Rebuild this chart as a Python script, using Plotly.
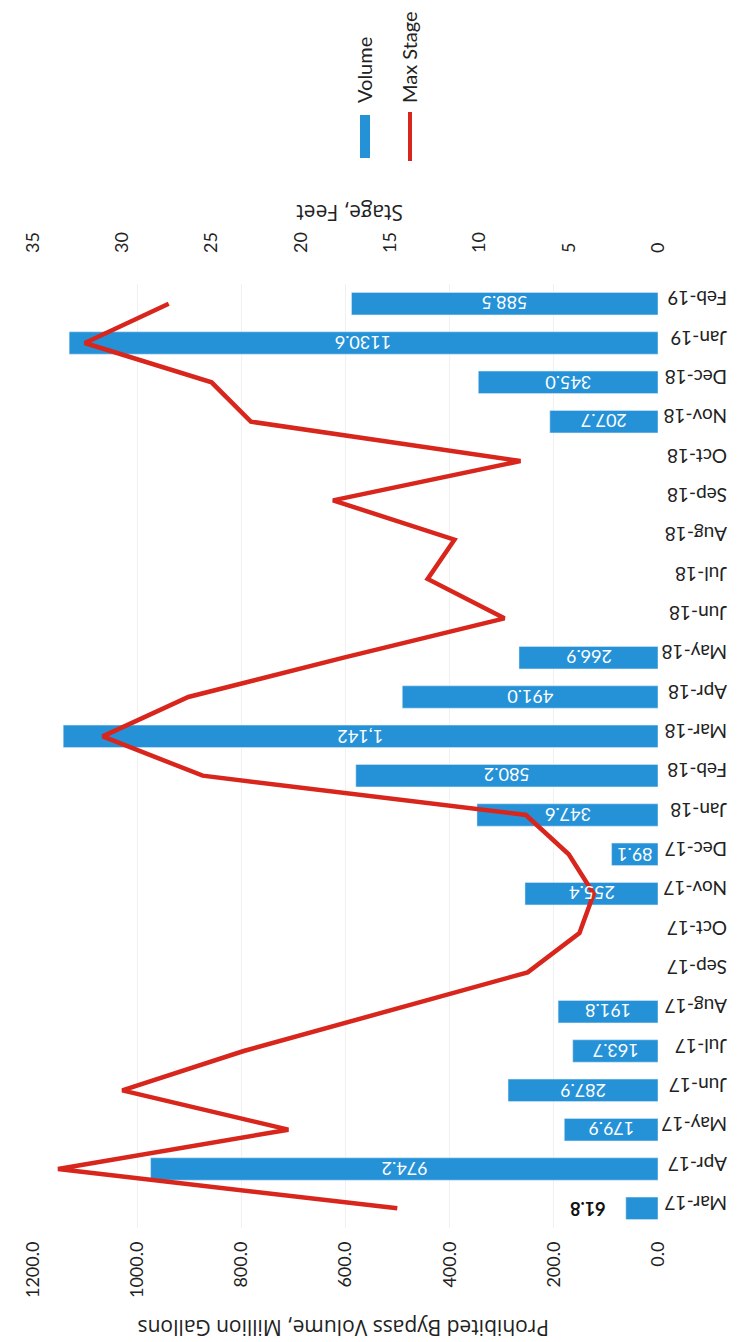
"""plot.py

Prohibited bypass volume and max river stage, drawn in the rotated
(scanned) orientation of the source page.

"""

import plotly.graph_objects as go

months = [
    "Mar-17", "Apr-17", "May-17", "Jun-17", "Jul-17", "Aug-17",
    "Sep-17", "Oct-17", "Nov-17", "Dec-17", "Jan-18", "Feb-18",
    "Mar-18", "Apr-18", "May-18", "Jun-18", "Jul-18", "Aug-18",
    "Sep-18", "Oct-18", "Nov-18", "Dec-18", "Jan-19", "Feb-19",
]
volume = [
    61.8, 974.2, 179.9, 287.9, 163.7, 191.8,
    None, None, 255.4, 89.1, 347.6, 580.2,
    1142.0, 491.0, 266.9, None, None, None,
    None, None, 207.7, 345.0, 1130.6, 588.5,
]
volume_labels = [
    "61.8", "974.2", "179.9", "287.9", "163.7", "191.8",
    "", "", "255.4", "89.1", "347.6", "580.2",
    "1,142", "491.0", "266.9", "", "", "",
    "", "", "207.7", "345.0", "1130.6", "588.5",
]
max_stage = [
    14.6, 33.6, 20.7, 30.0, 23.2, 15.2,
    7.3, 4.4, 3.6, 5.0, 7.4, 25.5,
    31.1, 26.3, 17.6, 8.6, 12.9, 11.4,
    18.2, 7.7, 22.8, 25.0, 32.1, 27.4,
]
volume_ticks = [0, 200, 400, 600, 800, 1000, 1200]
stage_ticks = [0, 5, 10, 15, 20, 25, 30, 35]

FONT = "Lato"
TITLE_FONT = "Open Sans"
BLUE = "#2592d8"
RED = "#d8261d"

# plot area in pixels, used to place titles and the hand-drawn legend
W, H = 743, 1342
L, R, T, B = 25, 93, 276, 122


def px_to_paper(px, py):
    """Converts page pixels to paper coordinates"""
    return (px - L) / (W - L - R), (H - B - py) / (H - T - B)


def generate_figure():
    fig = go.Figure()

    fig.add_trace(
        go.Bar(
            y=months,
            x=volume,
            orientation="h",
            name="Volume",
            marker_color=BLUE,
        )
    )

    fig.add_trace(
        go.Scatter(
            y=months,
            x=max_stage,
            xaxis="x2",
            name="Max Stage",
            mode="lines",
            line=dict(color=RED, width=4.5),
        )
    )

    fig.update_layout(
        width=W,
        height=H,
        margin=dict(l=L, r=R, t=T, b=B, pad=0),
        plot_bgcolor="white",
        paper_bgcolor="white",
        showlegend=False,
        bargap=0.43,
        font=dict(family=FONT, size=18, color="#222222"),
        xaxis=dict(
            range=[1200, 0],
            tickvals=volume_ticks,
            ticktext=["%.1f" % v for v in volume_ticks],
            tickangle=-90,
            ticklabelstandoff=9,
            showgrid=True,
            gridcolor="#f1f1f1",
            zeroline=False,
            showline=False,
        ),
        xaxis2=dict(
            range=[35, 0],
            tickvals=stage_ticks,
            side="top",
            overlaying="x",
            tickangle=-90,
            ticklabelstandoff=30,
            showgrid=False,
            zeroline=False,
            showline=False,
        ),
        yaxis=dict(
            side="right",
            tickangle=180,
            ticklabelstandoff=68,
            range=[-0.5, len(months) - 0.5],
            showgrid=False,
            zeroline=False,
            tickfont=dict(size=19),
        ),
    )

    # value labels on the bars, upside down like the scan
    for month, v, label in zip(months, volume, volume_labels):
        if v is None:
            continue
        if v < 80:
            fig.add_annotation(
                text="<b>%s</b>" % label, x=v, y=month, xref="x", yref="y",
                xanchor="right", yanchor="middle", xshift=-18,
                textangle=180, showarrow=False,
                font=dict(size=18, color="#111111"),
            )
        else:
            fig.add_annotation(
                text=label, x=v / 2, y=month, xref="x", yref="y",
                xanchor="center", yanchor="middle",
                textangle=180, showarrow=False,
                font=dict(size=18, color="white"),
            )

    # axis titles, upside down like the scan
    for title, px, py in [
        ("Prohibited Bypass Volume, Million Gallons", 336, 1320),
        ("Stage, Feet", 342, 205),
    ]:
        x, y = px_to_paper(px, py)
        fig.add_annotation(
            text=title, xref="paper", yref="paper", x=x, y=y,
            xanchor="center", yanchor="middle",
            textangle=180, showarrow=False,
            font=dict(family=TITLE_FONT, size=21),
        )

    # legend, drawn by hand so its text can read upwards
    x0, y0 = px_to_paper(352, 150)
    x1, y1 = px_to_paper(362, 107)
    fig.add_shape(
        type="rect", xref="paper", yref="paper",
        x0=x0, y0=y0, x1=x1, y1=y1,
        fillcolor=BLUE, line=dict(width=0),
    )
    x0, y0 = px_to_paper(402, 153)
    x1, y1 = px_to_paper(402, 104)
    fig.add_shape(
        type="line", xref="paper", yref="paper",
        x0=x0, y0=y0, x1=x1, y1=y1,
        line=dict(color=RED, width=4),
    )
    for name, px, py in [("Volume", 356, 62), ("Max Stage", 401, 49)]:
        x, y = px_to_paper(px, py)
        fig.add_annotation(
            text=name, xref="paper", yref="paper", x=x, y=y,
            xanchor="center", yanchor="middle",
            textangle=-90, showarrow=False, font=dict(size=20),
        )

    return fig


fig = generate_figure()
fig.write_html("out.html")
